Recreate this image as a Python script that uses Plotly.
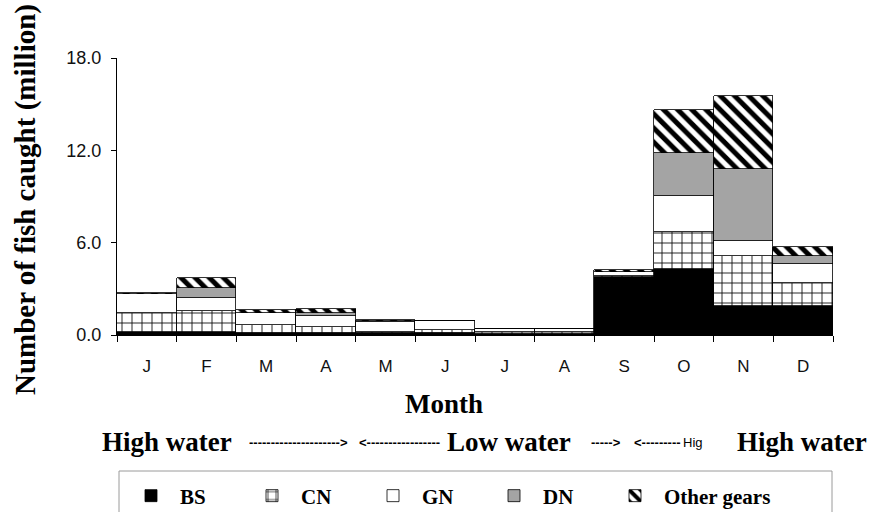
import plotly.graph_objects as go

# ---- data (million fish) ----
months = ["Jan", "Feb", "Mar", "Apr", "May", "Jun", "Jul", "Aug", "Sep", "Oct", "Nov", "Dec"]
month_labels = ["J", "F", "M", "A", "M", "J", "J", "A", "S", "O", "N", "D"]
bs = [0.20, 0.20, 0.10, 0.10, 0.10, 0.10, 0.05, 0.05, 3.80, 4.26, 1.88, 1.88]
cn = [1.20, 1.36, 0.55, 0.44, 0.11, 0.22, 0.12, 0.12, 0.02, 2.41, 3.25, 1.48]
gn = [1.24, 0.86, 0.76, 0.71, 0.65, 0.61, 0.20, 0.20, 0.29, 2.39, 0.99, 1.25]
dn = [0.04, 0.65, 0.05, 0.16, 0.03, 0.00, 0.02, 0.02, 0.00, 2.74, 4.66, 0.54]
other = [0.08, 0.65, 0.14, 0.26, 0.08, 0.00, 0.00, 0.00, 0.11, 2.80, 4.72, 0.58]
y_ticks = [0, 6, 12, 18]

# ---- layout geometry (pixels) ----
W, H = 875, 512
L, R, T, B = 117, 833, 58, 335


def px(x):
    return (x - L) / (R - L)


def py(y):
    return (B - y) / (B - T)


SERIF = "Liberation Serif, Times New Roman, serif"
SANS = "Liberation Sans, Arial, sans-serif"
line = dict(color="black", width=0.8)

fig = go.Figure()
fig.add_bar(x=months, y=bs, name="BS", marker=dict(color="black", line=line))
fig.add_bar(x=months, y=cn, name="CN",
            marker=dict(color="white", line=line,
                        pattern=dict(shape="+", fgcolor="black", bgcolor="white",
                                     fillmode="replace", fgopacity=1,
                                     size=10, solidity=0.16)))
fig.add_bar(x=months, y=gn, name="GN", marker=dict(color="white", line=line))
fig.add_bar(x=months, y=dn, name="DN", marker=dict(color="#a4a4a4", line=line))
fig.add_bar(x=months, y=other, name="Other gears", legendwidth=140,
            marker=dict(color="white", line=line,
                        pattern=dict(shape="\\", fgcolor="black", bgcolor="white",
                                     fillmode="replace", fgopacity=1,
                                     size=10, solidity=0.5)))

arrow_font = dict(family=SANS, size=13, color="black", weight="bold")
big_font = dict(family=SERIF, size=27, color="black", weight="bold")
annotations = [
    dict(text="Number of fish caught (million)", x=px(25), y=py(200), textangle=-90,
         font=dict(family=SERIF, size=29, color="black", weight="bold"),
         xanchor="center", yanchor="middle"),
    dict(text="Month", x=px(444), y=py(404), font=big_font,
         xanchor="center", yanchor="middle"),
    dict(text="High water", x=px(100), y=py(442), font=big_font,
         xanchor="left", yanchor="middle"),
    dict(text="-" * 21 + "&gt;", x=px(247), y=py(442), font=arrow_font,
         xanchor="left", yanchor="middle"),
    dict(text="&lt;" + "-" * 17, x=px(357), y=py(442), font=arrow_font,
         xanchor="left", yanchor="middle"),
    dict(text="Low water", x=px(445), y=py(442), font=big_font,
         xanchor="left", yanchor="middle"),
    dict(text="-" * 5 + "&gt;", x=px(589), y=py(442), font=arrow_font,
         xanchor="left", yanchor="middle"),
    dict(text="&lt;" + "-" * 9, x=px(632), y=py(442), font=arrow_font,
         xanchor="left", yanchor="middle"),
    dict(text="Hig", x=px(681), y=py(442),
         font=dict(family=SANS, size=13, color="black"),
         xanchor="left", yanchor="middle"),
    dict(text="High water", x=px(735), y=py(442), font=big_font,
         xanchor="left", yanchor="middle"),
]
for a in annotations:
    a.update(xref="paper", yref="paper", showarrow=False)

fig.update_layout(
    width=W, height=H,
    margin=dict(l=L, r=W - R, t=T, b=H - B, autoexpand=False),
    paper_bgcolor="white", plot_bgcolor="white",
    barmode="stack", bargap=0,
    showlegend=True,
    legend=dict(orientation="h", x=px(122), y=py(496), xanchor="left", yanchor="middle",
                itemwidth=48, entrywidth=58, entrywidthmode="pixels",
                font=dict(family=SERIF, size=21, color="black", weight="bold"),
                bgcolor="rgba(0,0,0,0)", borderwidth=0, traceorder="normal"),
    annotations=annotations,
    shapes=[dict(type="rect", xref="paper", yref="paper",
                 x0=px(119), x1=px(832), y0=py(471), y1=py(540),
                 line=dict(color="#9a9a9a", width=1), fillcolor="rgba(0,0,0,0)")],
    xaxis=dict(type="category", tickvals=months, ticktext=month_labels,
               tickson="boundaries", ticks="outside", ticklen=6, tickcolor="black",
               showline=True, linecolor="black", linewidth=1, showgrid=False,
               tickfont=dict(family=SANS, size=17, color="#111"),
               ticklabelstandoff=16, zeroline=False),
    yaxis=dict(range=[0, 18], tickvals=y_ticks, tickformat=".1f",
               ticks="outside", ticklen=5, tickcolor="black",
               showline=True, linecolor="black", linewidth=1, showgrid=False,
               zeroline=False,
               tickfont=dict(family=SANS, size=18, color="#111"),
               ticklabelstandoff=6),
)

fig.write_html("out.html", config={"displayModeBar": False},
               post_script="document.body.style.margin='0';")
